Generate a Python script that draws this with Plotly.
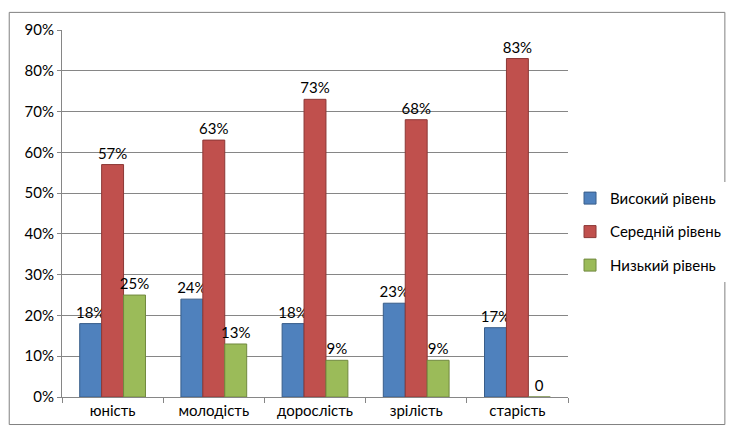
import plotly.graph_objects as go

categories = ["юність", "молодість", "дорослість", "зрілість", "старість"]
high = [0.18, 0.24, 0.18, 0.23, 0.17]
mid = [0.57, 0.63, 0.73, 0.68, 0.83]
low = [0.25, 0.13, 0.09, 0.09, 0.0]
high_text = ["18%", "24%", "18%", "23%", "17%"]
mid_text = ["57%", "63%", "73%", "68%", "83%"]
low_text = ["25%", "13%", "9%", "9%", "0"]
series_names = ["Високий рівень", "Середній рівень", "Низький рівень"]
colors = ["#4F81BD", "#C0504D", "#9BBB59"]
edges = ["#385D8A", "#8C3836", "#71893F"]

FONT = "Lato"

fig = go.Figure()
for i, (name, vals, txt, c, e) in enumerate(zip(series_names, [high, mid, low], [high_text, mid_text, low_text], colors, edges)):
    fig.add_trace(go.Bar(
        x=categories, y=vals, name=name, text=txt, textposition="outside",
        constraintext="none",
        textfont=dict(size=15, color="black", family=FONT),
        marker=dict(color=c, line=dict(color=e, width=1)),
        cliponaxis=False, legendgroup=f"g{i}",
    ))

fig.update_layout(
    width=730, height=423,
    margin=dict(l=54, r=163, t=19, b=29),
    paper_bgcolor="white", plot_bgcolor="white",
    barmode="group", bargap=0.35, bargroupgap=0,
    font=dict(family=FONT, size=15, color="black"),
    legend=dict(x=1.004, y=0.45, xanchor="left", yanchor="middle",
                font=dict(size=15, color="black", family=FONT), tracegroupgap=11,
                itemwidth=30),
    showlegend=True,
)
fig.update_yaxes(range=[0, 0.9], tickvals=[i/10 for i in range(10)],
                 ticktext=[f"{i*10}%" for i in range(10)],
                 showgrid=True, gridcolor="#868686", gridwidth=1,
                 showline=True, linecolor="#868686", ticks="outside", ticklen=4,
                 tickcolor="#868686", zeroline=False, tickfont=dict(size=15))
fig.update_xaxes(showline=True, linecolor="#868686", ticks="outside",
                 tickson="boundaries", ticklen=5, tickcolor="#868686",
                 tickfont=dict(size=15))
fig.add_shape(type="rect", xref="paper", yref="paper",
              x0=-0.1043, x1=1.31, y0=-0.075, y1=1.048,
              line=dict(color="#808080", width=1))
fig.write_html("out.html")
